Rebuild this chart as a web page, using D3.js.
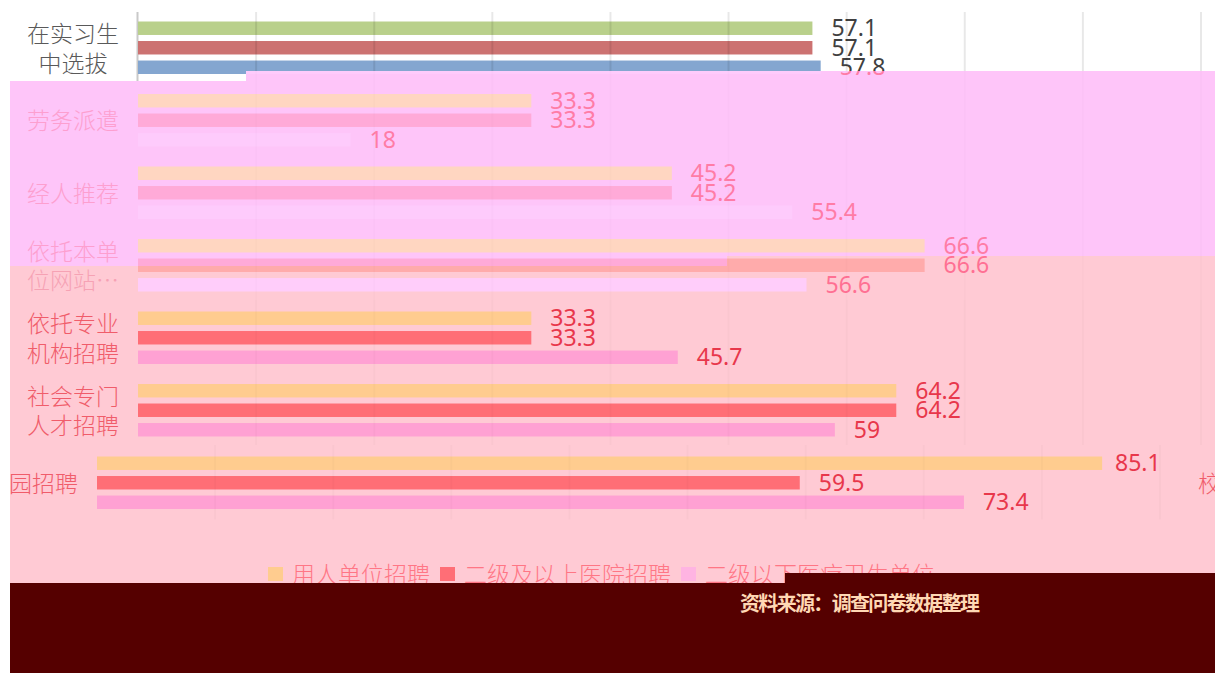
<html>
<head>
<meta charset="utf-8">
<script src="https://d3js.org/d3.v7.min.js"></script>
<style>body{margin:0;background:#fff;}</style>
</head>
<body>
<script>
var width = 1215;
var height = 673;

// chart data
var categories = ["在实习生中选拔", "劳务派遣", "经人推荐", "依托本单位网站…", "依托专业机构招聘", "社会专门人才招聘", "校园招聘"];
var labelLines = [["在实习生", "中选拔"], ["劳务派遣"], ["经人推荐"], ["依托本单", "位网站…"], ["依托专业", "机构招聘"], ["社会专门", "人才招聘"], ["校园招聘"]];
var seriesNames = ["用人单位招聘", "二级及以上医院招聘", "二级以下医疗卫生单位…"];
var employer   = [57.1, 33.3, 45.2, 66.6, 33.3, 64.2, 85.1];
var upperHosp  = [57.1, 33.3, 45.2, 66.6, 33.3, 64.2, 59.5];
var lowerUnits = [57.8, 18, 55.4, 56.6, 45.7, 59, 73.4];
var xTicks = [0, 10, 20, 30, 40, 50, 60, 70, 80, 90];
var sourceNote = "资料来源：调查问卷数据整理";

var rows = categories.map(function(c, i) {
  return {cat: c, lines: labelLines[i], vals: [employer[i], upperHosp[i], lowerUnits[i]]};
});

var svg = d3.select("body").append("svg")
    .attr("width", width)
    .attr("height", height);

var x = d3.scaleLinear().domain([0, 90]).range([138, 1201]);
var y = d3.scaleBand().domain(categories).range([12, 519.5]);
var yIn = d3.scaleBand().domain([0, 1, 2]).range([9.5, 62]).paddingInner(0.31);

var palettes = {
  top:   {bg: "#ffffff", bars: ["#b9d08b", "#cc7271", "#84a6d0"], cat: "#595959", val: "#404040", axis: "#c9c9c9", grid: 0.09},
  mid:   {bg: "#fec5f9", bars: ["#ffd6c1", "#ffaad8", "#fecbfc"], cat: "#fd9fcf", val: "#ff7ca6", axis: "#fec5f9", grid: 0.012},
  trans: {bg: "#ffcad4", bars: ["#ffd6c1", "#ffabab", "#ffcdfa"], cat: "#f6a2b4", val: "#ff7093", axis: "#ffcad4", grid: 0.012},
  low:   {bg: "#ffcad4", bars: ["#ffcc8f", "#ff6e76", "#ffa1d3"], cat: "#f05c6a", val: "#e8374b", axis: "#ffcad4", grid: 0.02}
};

var defs = svg.append("defs");
function clip(id, pts) {
  defs.append("clipPath").attr("id", id)
    .append("polygon")
    .attr("points", pts.map(function(p) { return p.join(","); }).join(" "));
  return "url(#" + id + ")";
}

// draws the chart in one palette; only rows touching [y0, y1] are drawn
function drawLayer(parent, pal, dx, y0, y1) {
  parent.append("rect")
    .attr("x", 0).attr("y", 0)
    .attr("width", width).attr("height", height)
    .attr("fill", pal.bg);

  var layer = parent.append("g").attr("transform", "translate(" + dx + ",0)");

  layer.append("line")
    .attr("x1", x(0) - 0.5).attr("x2", x(0) - 0.5)
    .attr("y1", y.range()[0]).attr("y2", y.range()[1])
    .attr("stroke", pal.axis)
    .attr("stroke-width", 2);

  var visible = rows.filter(function(d) {
    return y(d.cat) < y1 && y(d.cat) + y.bandwidth() > y0;
  });

  var grp = layer.selectAll("g.row")
    .data(visible)
    .enter().append("g")
    .attr("class", "row")
    .attr("transform", function(d) { return "translate(0," + y(d.cat) + ")"; });

  grp.selectAll("rect")
    .data(function(d) { return d.vals; })
    .enter().append("rect")
    .attr("x", x(0))
    .attr("y", function(d, i) { return yIn(i); })
    .attr("width", function(d) { return x(d) - x(0); })
    .attr("height", yIn.bandwidth())
    .attr("fill", function(d, i) { return pal.bars[i]; });

  // gridlines show faintly through the bars
  layer.selectAll("line.grid")
    .data(xTicks.slice(1))
    .enter().append("line")
    .attr("class", "grid")
    .attr("x1", function(d) { return x(d); })
    .attr("x2", function(d) { return x(d); })
    .attr("y1", y.range()[0]).attr("y2", y.range()[1])
    .attr("stroke", "#000")
    .attr("stroke-opacity", pal.grid)
    .attr("stroke-width", 2);

  grp.each(function(row) {
    var top = y(row.cat);
    var g = d3.select(this);
    row.vals.forEach(function(v, i) {
      var cy = yIn(i) + yIn.bandwidth() / 2;
      if (top + cy + 12 < y0 || top + cy - 12 > y1) return;
      g.append("text")
        .attr("class", "val")
        .attr("x", Math.min(x(v) + 19, x(90) - 45))
        .attr("y", cy + 8)
        .attr("font-family", "'Noto Sans', sans-serif")
        .attr("font-size", 23)
        .attr("fill", pal.val)
        .text(v);
    });
    var n = row.lines.length;
    row.lines.forEach(function(t, i) {
      var cy = y.bandwidth() / 2 + (i - (n - 1) / 2) * 29.5;
      if (top + cy + 13 < y0 || top + cy - 13 > y1) return;
      g.append("text")
        .attr("class", "cat")
        .attr("x", 73)
        .attr("y", cy + 8.5)
        .attr("text-anchor", "middle")
        .attr("font-family", "'Noto Sans CJK SC', sans-serif")
        .attr("font-weight", 300)
        .attr("font-size", 23)
        .attr("fill", pal.cat)
        .text(t);
    });
  });
}

// base chart
drawLayer(svg.append("g"), palettes.top, 0, 0, 81);

// recoloured bands
drawLayer(svg.append("g").attr("clip-path", clip("cMid",
  [[10, 81], [246, 81], [246, 71], [1215, 71], [1215, 256], [727, 256], [727, 266], [10, 266]])), palettes.mid, 0, 71, 266);
drawLayer(svg.append("g").attr("clip-path", clip("cTrans",
  [[10, 266], [727, 266], [727, 256], [1215, 256], [1215, 300], [10, 300]])), palettes.trans, 0, 256, 300);
drawLayer(svg.append("g").attr("clip-path", clip("cLowA",
  [[10, 300], [1215, 300], [1215, 445], [10, 445]])), palettes.low, 0, 300, 445);
var shifted = svg.append("g").attr("clip-path", clip("cLowB",
  [[10, 445], [1215, 445], [1215, 540], [10, 540]]));
drawLayer(shifted.append("g"), palettes.low, -41, 445, 540);
drawLayer(shifted.append("g").attr("clip-path", clip("cWrap",
  [[1180, 445], [1215, 445], [1215, 540], [1180, 540]])), palettes.low, 1171, 445, 540);
svg.append("rect")
  .attr("x", 10).attr("y", 540)
  .attr("width", width - 10).attr("height", 50)
  .attr("fill", palettes.low.bg);

// legend
var legendColors = ["#ffcc8f", "#ff6e76", "#ffb4e2"];
var legend = svg.append("g").attr("transform", "translate(268,0)");
var lx = 0;
seriesNames.forEach(function(name, i) {
  legend.append("rect")
    .attr("x", lx).attr("y", 567)
    .attr("width", 15).attr("height", 14)
    .attr("fill", legendColors[i]);
  var t = legend.append("text")
    .attr("x", lx + 24).attr("y", 583)
    .attr("font-family", "'Noto Sans CJK SC', sans-serif")
    .attr("font-weight", 300)
    .attr("font-size", 23)
    .attr("fill", "#ff7685")
    .text(name);
  lx += 24 + t.node().getComputedTextLength() + 10;
});

// dark block at the bottom
svg.append("polygon")
  .attr("points", [[10, 583], [785, 583], [785, 573], [1215, 573], [1215, 673], [10, 673]]
    .map(function(p) { return p.join(","); }).join(" "))
  .attr("fill", "#550000");

svg.append("text")
  .attr("x", 740).attr("y", 611)
  .attr("font-family", "'Noto Sans CJK SC', sans-serif")
  .attr("font-weight", 700)
  .attr("font-size", 20)
  .attr("fill", "#ffd8b4")
  .attr("textLength", 240)
  .text(sourceNote);
</script>
</body>
</html>
